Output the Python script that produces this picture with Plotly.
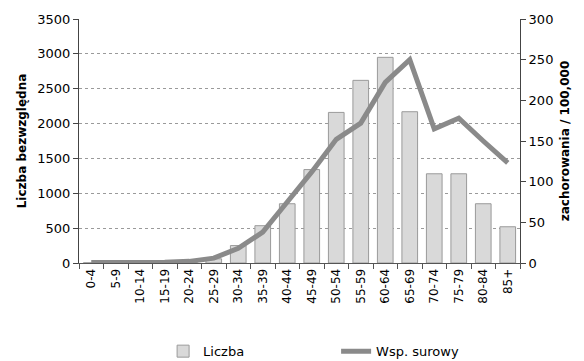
import plotly.graph_objects as go

# Age groups and values
age_groups = ["0-4", "5-9", "10-14", "15-19", "20-24", "25-29", "30-34", "35-39",
              "40-44", "45-49", "50-54", "55-59", "60-64", "65-69", "70-74",
              "75-79", "80-84", "85+"]
counts = [3, 2, 3, 5, 15, 60, 250, 535, 850, 1340, 2160, 2620, 2950, 2170,
          1280, 1280, 850, 520]
crude_rate = [0.5, 0.3, 0.4, 0.8, 2, 6, 18, 38, 75, 112, 152, 172, 222, 250,
              165, 178, 150, 123]

FONT = "DejaVu Sans"

fig = go.Figure()
fig.add_trace(go.Bar(
    x=age_groups, y=counts, name="Liczba",
    marker=dict(color="#d9d9d9", line=dict(color="#9a9a9a", width=1)),
    width=0.64,
))
fig.add_trace(go.Scatter(
    x=age_groups, y=crude_rate, name="Wsp. surowy", yaxis="y2",
    mode="lines", line=dict(color="#8a8a8a", width=5),
))

fig.update_layout(
    width=584, height=361,
    margin=dict(l=79, r=64, t=19, b=98, autoexpand=False),
    paper_bgcolor="white", plot_bgcolor="white",
    font=dict(family=FONT, size=12, color="black"),
    showlegend=True,
    legend=dict(orientation="h", x=0.583, y=-0.30, xanchor="center", yanchor="top",
                entrywidth=128, entrywidthmode="pixels",
                font=dict(size=13, family=FONT)),
    xaxis=dict(
        type="category", tickangle=-90, showline=True, linecolor="#555",
        linewidth=1, ticks="outside", ticklen=5, tickcolor="#555",
        tickson="boundaries", showgrid=False, tickfont=dict(size=12),
        automargin=False,
    ),
    yaxis=dict(
        range=[0, 3500], dtick=500, showline=True, linecolor="#444",
        linewidth=1, ticks="outside", ticklen=5, tickcolor="#444",
        showgrid=True, gridcolor="#9a9a9a", griddash="dot", gridwidth=1,
        zeroline=False, tickfont=dict(size=13), automargin=False,
        title=dict(text="<b>Liczba bezwzględna</b>", font=dict(size=12), standoff=8),
    ),
    yaxis2=dict(
        range=[0, 300], dtick=50, overlaying="y", side="right", showline=True,
        linecolor="#444", linewidth=1, ticks="outside", ticklen=5,
        tickcolor="#444", showgrid=False, zeroline=False,
        tickfont=dict(size=13), automargin=False,
        title=dict(text="<b>zachorowania / 100,000</b>", font=dict(size=12), standoff=8),
    ),
)

fig.write_html("out.html")
